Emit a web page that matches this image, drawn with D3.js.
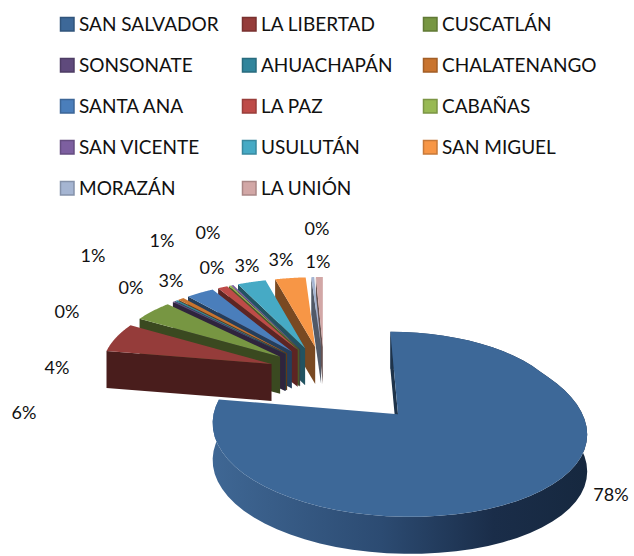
<!DOCTYPE html>
<html>
<head>
<meta charset="utf-8">
<script src="https://cdn.jsdelivr.net/npm/d3@7"></script>
<style>
  body { margin: 0; background: #fff; }
  text { font-family: Lato, "Open Sans", sans-serif; fill: #111; }
</style>
</head>
<body>
<div id="chart-container"></div>
<script>
const departments = ["SAN SALVADOR", "LA LIBERTAD", "CUSCATLÁN", "SONSONATE", "AHUACHAPÁN", "CHALATENANGO",
    "SANTA ANA", "LA PAZ", "CABAÑAS", "SAN VICENTE", "USULUTÁN", "SAN MIGUEL", "MORAZÁN", "LA UNIÓN"];
// percentages; the labels show them rounded
const shares = [77.6, 5.8, 4.2, 0.2, 0.3, 0.6, 2.9, 1.0, 0.2, 0.2, 2.9, 3.1, 0.3, 0.7];
const colors = ["#3d6898", "#953c3a", "#779642", "#5f4a7c", "#31859c", "#c9742f",
    "#4a7ebb", "#be4b48", "#98b954", "#7d5fa0", "#46aac5", "#f79646", "#a5b5d2", "#d2a7a6"];

// how far each slice is pulled out of the pie
const explode = [0.62, 0.33, 0.33, 0.33, 0.33, 0.33, 0.33, 0.33, 0.33, 0.33, 0.33, 0.33, 0.33, 0.33];
// data labels were placed by hand in the original
const labelPos = [[611, 495], [24, 413], [57, 368], [67, 312], [131, 288], [93, 256], [171, 281],
    [162, 241], [208, 233], [212, 268], [247, 266], [281, 260], [317, 229], [318, 262]];

const width = 634, height = 556;
const svg = d3.select("#chart-container").append("svg")
    .attr("width", width)
    .attr("height", height)
    .style("display", "block");

// Legend
const legendX = d3.scaleOrdinal().domain([0, 1, 2]).range([60, 242, 423]);
const legendY = d3.scaleLinear().domain([0, 4]).range([24, 188]);
const legend = svg.selectAll(".legend")
    .data(departments)
    .enter().append("g")
    .attr("class", "legend")
    .attr("transform", (d, i) => `translate(${legendX(i % 3)}, ${legendY(Math.floor(i / 3))})`);
legend.append("rect")
    .attr("x", 0.5).attr("y", -6.5)
    .attr("width", 13.5).attr("height", 13.5)
    .style("fill", (d, i) => colors[i])
    .style("stroke", (d, i) => d3.color(colors[i]).darker(0.6))
    .style("stroke-width", 1.5);
legend.append("text")
    .attr("x", 19).attr("y", 7)
    .style("font-size", "19px")
    .text(d => d);

// 3D view of the pie: flat disc coordinates to the screen, nearer parts get bigger.
// The perspective is stronger in front of the pie centre than behind it.
const view = {cx: 324, cy: 373, rx: 170, ry: 82, depth: 37,
    kxFar: 0.05, kxNear: 0.18, kyFar: 0.09, kyNear: 0.13};
function project(x, y) {
    const sx = 1 + (y < 0 ? view.kxFar : view.kxNear) * y;
    const sy = 1 + (y < 0 ? view.kyFar : view.kyNear) * y;
    return [view.cx + view.rx * x * sx, view.cy + view.ry * y * sy];
}

const slices = d3.pie().sort(null).value(d => d)(shares);

// outline of one slice's top, from the tip around the rim
function rimPoints(d, i, from, to) {
    const mid = (d.startAngle + d.endAngle) / 2;
    const ox = explode[i] * Math.sin(mid), oy = -explode[i] * Math.cos(mid);
    const a = d3.scaleLinear().domain([0, 60]).range([from, to]);
    return d3.range(61).map(n => project(ox + Math.sin(a(n)), oy - Math.cos(a(n))));
}
function tip(d, i) {
    const mid = (d.startAngle + d.endAngle) / 2;
    return project(explode[i] * Math.sin(mid), -explode[i] * Math.cos(mid));
}
const line = d3.line().curve(d3.curveLinear);
const drop = p => [p[0], p[1] + view.depth];

// shading of the big slice's outer wall
const wallGrad = svg.append("defs").append("linearGradient")
    .attr("id", "wall-grad");
wallGrad.selectAll("stop")
    .data([["0%", "#3f6794"], ["45%", "#2c4b72"], ["75%", "#1a2d49"], ["100%", "#16283f"]])
    .enter().append("stop")
    .attr("offset", d => d[0])
    .attr("stop-color", d => d[1]);

function drawSlice(d, i) {
    const rim = rimPoints(d, i, d.startAngle, d.endAngle);
    const t = tip(d, i);
    const g = svg.append("g").attr("class", "slice");
    // outer wall, only the big slice shows it
    if (i === 0) {
        g.append("path")
            .attr("d", line(rim.concat(rim.map(drop).reverse())) + "Z")
            .style("fill", "url(#wall-grad)");
    }
    // cut side facing the viewer
    g.append("path")
        .attr("d", line([t, rim[0], drop(rim[0]), drop(t)]) + "Z")
        .style("fill", d3.color(colors[i]).darker(2));
    // top face
    g.append("path")
        .attr("d", line([t].concat(rim)) + "Z")
        .style("fill", colors[i]);
}

// big slice first, then the small ones from right to left so each covers its neighbour
drawSlice(slices[0], 0);
for (let i = slices.length - 1; i > 0; i--) drawSlice(slices[i], i);

// Data labels
svg.selectAll(".label")
    .data(shares)
    .enter().append("text")
    .attr("class", "label")
    .attr("x", (d, i) => labelPos[i][0])
    .attr("y", (d, i) => labelPos[i][1] + 6)
    .attr("text-anchor", "middle")
    .style("font-size", "18px")
    .text(d => Math.round(d) + "%");
</script>
</body>
</html>
